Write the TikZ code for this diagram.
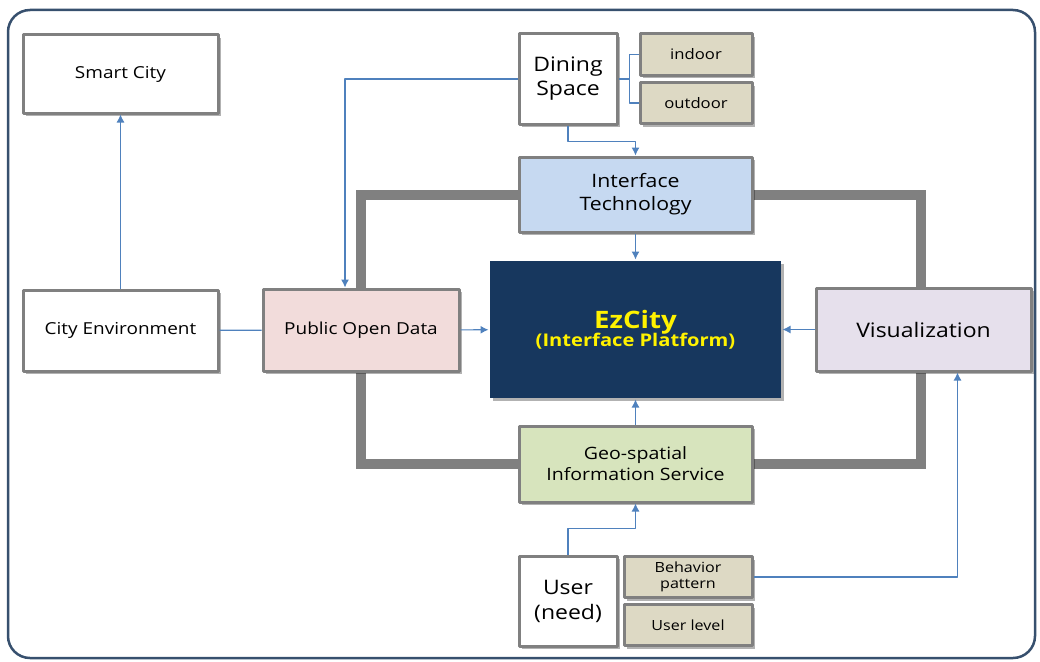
\documentclass[tikz,border=0pt]{standalone}
\usepackage{fontspec}
\setmainfont{Open Sans}[FakeStretch=1.15]
\usetikzlibrary{arrows.meta, shadows, backgrounds}

\definecolor{boxgray}{RGB}{128,128,128}
\definecolor{linkblue}{RGB}{79,129,189}
\definecolor{framecol}{RGB}{55,80,110}
\definecolor{pinkfill}{RGB}{242,220,219}
\definecolor{navyfill}{RGB}{23,55,94}
\definecolor{lavfill}{RGB}{230,224,236}
\definecolor{bluefill}{RGB}{198,217,241}
\definecolor{greenfill}{RGB}{215,228,189}
\definecolor{tanfill}{RGB}{221,217,196}

\begin{document}
\begin{tikzpicture}[x=1pt, y=-1pt, line join=round,
    box/.style={draw=boxgray, line width=3pt, fill=white, align=center,
        inner sep=2pt, text=black,
        drop shadow={shadow xshift=3pt, shadow yshift=-3pt, opacity=0.3, fill=black}},
    tag/.style={box, fill=tanfill, minimum width=112, minimum height=41,
        font=\fontsize{14.5}{16}\selectfont},
    link/.style={linkblue, line width=1.1pt, -{Latex[length=8pt, width=8pt]}},
    plain/.style={linkblue, line width=1.1pt},
    ring/.style={boxgray, line width=10pt}]
\useasboundingbox (0,0) rectangle (1040,661);

% outer frame
\draw[framecol, line width=2.5pt, rounded corners=22pt] (8,10) rectangle (1035,658);

% boxes
\node[box, minimum width=195, minimum height=78, font=\fontsize{16.5}{18}\selectfont]
    (smart) at (120.5,74) {Smart City};
\node[box, minimum width=195, minimum height=81, font=\fontsize{16.5}{18}\selectfont]
    (cityenv) at (120.5,330.5) {City Environment};
\node[box, fill=pinkfill, minimum width=196, minimum height=82, font=\fontsize{16.5}{18}\selectfont]
    (opendata) at (361,330) {Public Open Data};
\node[box, fill=navyfill, draw=none, minimum width=291, minimum height=137,
    text=yellow, font=\bfseries]
    (ezcity) at (635.5,329.5) {{\fontsize{24}{29}\selectfont EzCity}\\[-2pt]
    {\fontsize{17.5}{21}\selectfont (Interface Platform)}};
\node[box, fill=lavfill, minimum width=215, minimum height=83, font=\fontsize{20}{22}\selectfont]
    (visual) at (923.5,329.5) {Visualization};
\node[box, fill=bluefill, minimum width=233, minimum height=75, font=\fontsize{18.5}{23}\selectfont]
    (itech) at (635.5,194.5) {Interface\\Technology};
\node[box, fill=greenfill, minimum width=233, minimum height=76, font=\fontsize{17}{21}\selectfont]
    (geo) at (635.5,464) {Geo-spatial\\Information Service};
\node[box, minimum width=98, minimum height=90, font=\fontsize{20}{24}\selectfont]
    (dining) at (568,79) {Dining\\Space};
\node[tag] (indoor) at (696,54.5) {indoor};
\node[tag] (outdoor) at (696,103) {outdoor};
\node[box, minimum width=98, minimum height=90, font=\fontsize{20}{25}\selectfont]
    (user) at (568,601) {User\\(need)};
\node[tag, minimum width=128, font=\fontsize{14}{16}\selectfont]
    (behavior) at (688,577) {Behavior\\pattern};
\node[tag, minimum width=128, font=\fontsize{14}{16}\selectfont]
    (userlevel) at (688,625) {User level};

% thick ring behind the boxes
\begin{scope}[on background layer]
\draw[ring] (opendata.center) |- (itech.center) -| ([xshift=-3]visual.center)
    |- (geo.center) -| cycle;
\end{scope}

% connectors
\draw[link] (cityenv) -- (smart);
\draw[plain] (cityenv) -- (opendata);
\draw[link] (opendata) -- (ezcity);
\draw[link] (visual) -- (ezcity);
\draw[link] (itech) -- (ezcity);
\draw[link] (geo) -- (ezcity);
\draw[link] (dining.south) -- ++(0,16) -| (itech.north);
\draw[link] (dining.west) -| ([xshift=-16]opendata.north);
\draw[plain] (dining.east) -- ++(11,0) coordinate (fork);
\draw[plain] (indoor.west) -| (fork) |- (outdoor.west);
\draw[link] (user.north) -- ++(0,-26) -| (geo.south);
\draw[link] (behavior.east) -| ([xshift=34]visual.south);
\end{tikzpicture}
\end{document}
